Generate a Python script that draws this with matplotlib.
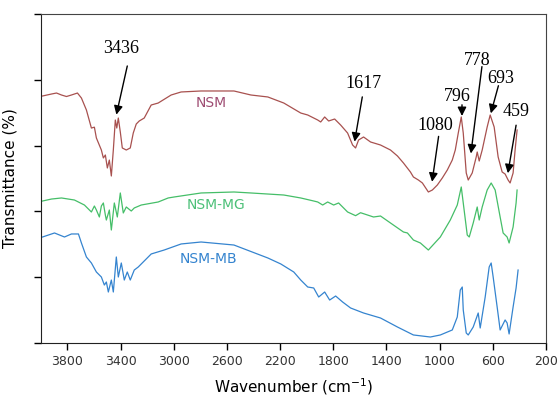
import matplotlib
matplotlib.use('Agg')
import matplotlib.pyplot as plt
import numpy as np

# Spectra (wavenumber in cm-1, transmittance in arbitrary offset units)
wn_nsm = [3987.5, 3920, 3882.5, 3845, 3807.5, 3770, 3725, 3695, 3657.5, 3620, 3597.5, 3582.5,
          3545, 3530, 3515, 3500, 3485, 3470, 3455, 3440, 3429, 3417.5, 3402.5, 3387.5, 3357.5,
          3327.5, 3305, 3282.5, 3260, 3222.5, 3170, 3117.5, 3020, 2945, 2795, 2547.5, 2420,
          2292.5, 2172.5, 2045, 1992.5, 1917.5, 1895, 1865, 1835, 1790, 1745, 1692.5, 1655,
          1632.5, 1610, 1572.5, 1520, 1445, 1370, 1317.5, 1272.5, 1220, 1197.5, 1160, 1130,
          1085, 1055, 1017.5, 980, 942.5, 905, 882.5, 860, 837.5, 822.5, 800, 785, 755, 725,
          717.5, 702.5, 680, 642.5, 620, 590, 560, 530, 507.5, 485, 470, 447.5, 432.5, 417.5]
t_nsm = [3.754, 3.784, 3.799, 3.769, 3.746, 3.769, 3.799, 3.723, 3.541, 3.267, 3.28, 3.116,
         2.933, 2.812, 2.857, 2.66, 2.78, 2.538, 2.933, 3.389, 3.267, 3.419, 3.207, 2.964, 2.933,
         2.964, 3.191, 3.328, 3.374, 3.419, 3.617, 3.647, 3.769, 3.815, 3.83, 3.83, 3.769,
         3.739, 3.647, 3.495, 3.465, 3.389, 3.359, 3.435, 3.374, 3.404, 3.313, 3.191, 3.009,
         2.964, 3.085, 3.131, 3.055, 3.009, 2.933, 2.842, 2.736, 2.599, 2.523, 2.477, 2.432,
         2.295, 2.325, 2.401, 2.508, 2.629, 2.781, 2.933, 3.191, 3.435, 3.191, 2.584, 2.477,
         2.584, 2.827, 2.903, 2.766, 2.933, 3.283, 3.465, 3.283, 2.827, 2.599, 2.568, 2.477,
         2.432, 2.584, 2.933, 3.237]

wn_mg = [3987.5, 3920, 3845, 3747.5, 3672.5, 3620, 3597.5, 3582.5, 3560, 3545, 3530, 3515,
         3507.5, 3485, 3470, 3447.5, 3425, 3402.5, 3380, 3357.5, 3320, 3297.5, 3245, 3117.5,
         3042.5, 2997.5, 2795, 2547.5, 2420, 2172.5, 2045, 1947.5, 1917.5, 1880, 1842.5,
         1797.5, 1760, 1692.5, 1632.5, 1595, 1542.5, 1497.5, 1445, 1370, 1272.5, 1242.5,
         1197.5, 1145, 1085, 995, 920, 867.5, 837.5, 822.5, 792.5, 777.5, 747.5, 717.5, 702.5,
         680, 642.5, 612.5, 582.5, 545, 522.5, 492.5, 477.5, 447.5, 425, 417.5]
t_mg = [2.158, 2.188, 2.204, 2.173, 2.097, 1.991, 2.082, 2.021, 1.915, 2.082, 2.128, 1.945,
        1.869, 2.021, 1.717, 2.128, 1.915, 2.28, 1.976, 2.067, 2.006, 2.052, 2.097, 2.143,
        2.204, 2.219, 2.28, 2.295, 2.28, 2.249, 2.204, 2.158, 2.143, 2.097, 2.143,
        2.097, 2.128, 1.991, 1.935, 1.98, 1.945, 1.915, 1.93, 1.824, 1.687, 1.672,
        1.565, 1.52, 1.413, 1.611, 1.869, 2.097, 2.371, 2.128, 1.641, 1.611, 1.824, 2.067, 1.869,
        2.067, 2.325, 2.432, 2.325, 1.915, 1.672, 1.611, 1.52, 1.763, 2.128, 2.325]

wn_mb = [3987.5, 3897.5, 3822.5, 3770, 3717.5, 3695, 3657.5, 3620, 3582.5, 3545, 3522.5,
         3507.5, 3492.5, 3470, 3455, 3432.5, 3417.5, 3395, 3372.5, 3350, 3327.5, 3297.5,
         3267.5, 3170, 3072.5, 2945, 2795, 2547.5, 2292.5, 2195, 2097.5, 2045, 1992.5, 1947.5,
         1910, 1865, 1827.5, 1782.5, 1730, 1670, 1572.5, 1445, 1317.5, 1197.5, 1070, 995, 905,
         867.5, 845, 830, 822.5, 800, 785, 747.5, 710, 695, 657.5, 627.5, 612.5, 597.5, 567.5,
         545, 507.5, 492.5, 477.5, 447.5, 425, 410]
t_mb = [1.611, 1.672, 1.611, 1.657, 1.657, 1.52, 1.307, 1.216, 1.079, 1.003, 0.881,
        0.927, 0.775, 0.957, 0.775, 1.307, 1.003, 1.216, 0.957, 1.079, 0.957, 1.109,
        1.155, 1.353, 1.413, 1.505, 1.535, 1.489, 1.292, 1.201, 1.079, 0.957, 0.851, 0.836,
        0.699, 0.775, 0.653, 0.714, 0.623, 0.532, 0.456, 0.38, 0.243, 0.122, 0.091, 0.122, 0.198,
        0.395, 0.805, 0.851, 0.502, 0.152, 0.122, 0.243, 0.456, 0.228, 0.699, 1.155, 1.216, 1.003, 0.547,
        0.198, 0.35, 0.304, 0.137, 0.547, 0.836, 1.109]

peak_labels = ['3436', '1617', '1080', '796', '778', '693', '459']
series_names = ['NSM', 'NSM-MG', 'NSM-MB']
x_ticks = [3800, 3400, 3000, 2600, 2200, 1800, 1400, 1000, 600, 200]

c_red = '#A8514F'
c_green = '#45BE68'
c_blue = '#3584CF'

fig = plt.figure(figsize=(5.6, 4), dpi=100)
ax = fig.add_axes([0.073, 0.1425, 0.902, 0.8225])

ax.plot(wn_nsm, t_nsm, color=c_red, lw=0.9)
ax.plot(wn_mg, t_mg, color=c_green, lw=0.9)
ax.plot(wn_mb, t_mb, color=c_blue, lw=0.9)

ax.set_xlim(4000, 200)
ax.set_ylim(0, 5)
ax.set_xticks(x_ticks)
ax.set_xticklabels([str(v) for v in x_ticks], fontsize=9, color='#333333')
ax.set_yticks([0, 1, 2, 3, 4, 5])
ax.set_yticklabels([])
ax.tick_params(direction='out', length=5, width=1)
for s in ['left', 'bottom']:
    ax.spines[s].set_color('#222222')
for s in ['top', 'right']:
    ax.spines[s].set_color('#444444')

ax.set_xlabel('Wavenumber (cm$^{-1}$)', fontsize=11, labelpad=6)
ax.set_ylabel('Transmittance (%)', fontsize=11, labelpad=8)

# series names
ax.text(2720, 3.65, series_names[0], color='#9E4C72', fontsize=10, ha='center', va='center')
ax.text(2682, 2.10, series_names[1], color='#4CC078', fontsize=10, ha='center', va='center')
ax.text(2742, 1.28, series_names[2], color=c_blue, fontsize=10, ha='center', va='center')

# peak annotations: text position, arrow tail, arrow head
ann = [((3395, 4.48), (3350, 4.21), (3432, 3.47)),
       ((1575, 3.95), (1582, 3.74), (1640, 3.06)),
       ((1032, 3.31), (1008, 3.14), (1057, 2.45)),
       ((870, 3.75), (832, 3.62), (832, 3.45)),
       ((720, 4.30), (682, 4.20), (765, 2.88)),
       ((540, 4.02), (558, 3.91), (615, 3.49)),
       ((425, 3.52), (425, 3.31), (487, 2.58))]
for lab, (tp, tail, head) in zip(peak_labels, ann):
    ax.text(tp[0], tp[1], lab, fontsize=13, family='Liberation Serif',
            ha='center', va='center')
    ax.annotate('', xy=head, xytext=tail,
                arrowprops=dict(arrowstyle='-|>', color='k', lw=1.0,
                                mutation_scale=13, shrinkA=0, shrinkB=0))

fig.savefig('out.png', dpi=100)
